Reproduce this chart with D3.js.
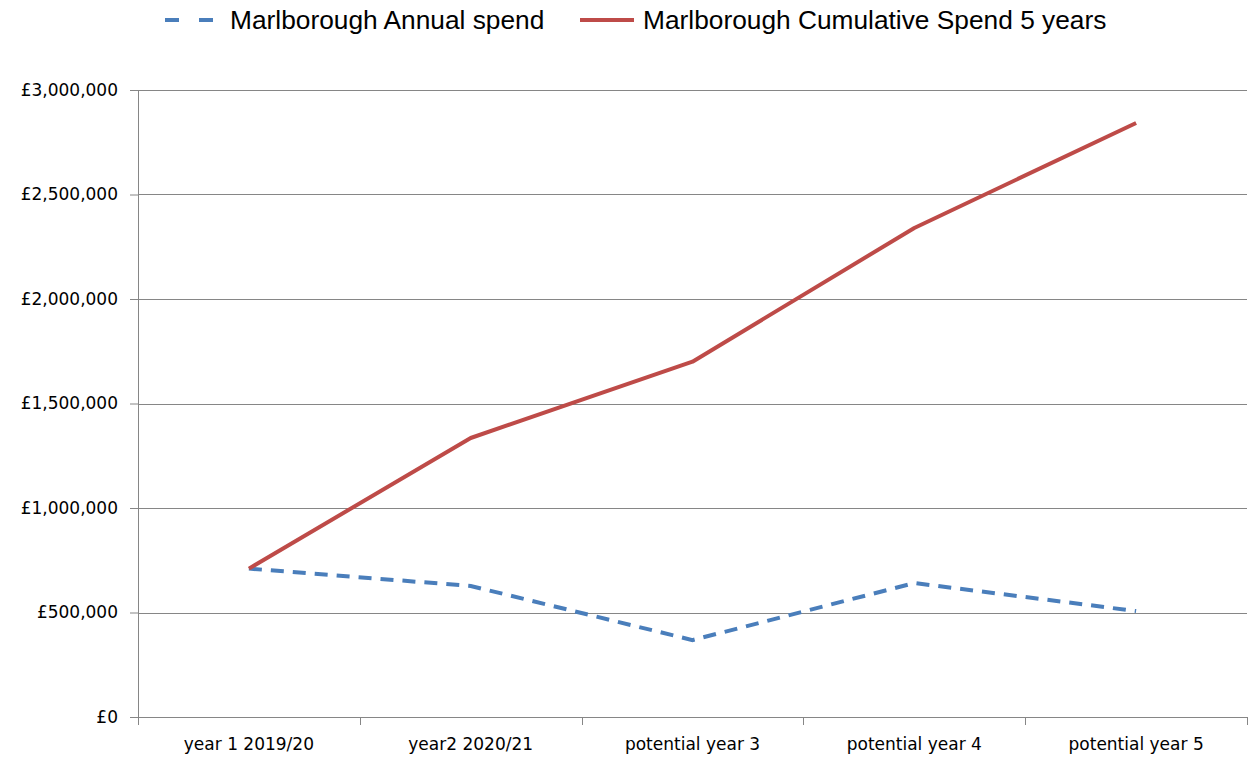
<!DOCTYPE html>
<html>
<head>
<meta charset="utf-8">
<script src="https://cdn.jsdelivr.net/npm/d3@7"></script>
<style>
  body { margin: 0; background: #fff; }
</style>
</head>
<body>
<div id="chart"></div>
<script>
var categories = ["year 1 2019/20", "year2 2020/21", "potential year 3", "potential year 4", "potential year 5"];
var annualSpend = [710000, 627000, 368000, 641000, 507000];
var cumulativeSpend = [710000, 1335000, 1700000, 2340000, 2842000];
var yTicks = [0, 500000, 1000000, 1500000, 2000000, 2500000, 3000000];
var seriesNames = ["Marlborough Annual spend", "Marlborough Cumulative Spend 5 years"];

var margin = { top: 90, right: 2, bottom: 43, left: 138 },
    width = 1249 - margin.left - margin.right,
    height = 760 - margin.top - margin.bottom;

var svg = d3.select("#chart").append("svg")
    .attr("width", 1249)
    .attr("height", 760);

var g = svg.append("g")
    .attr("transform", "translate(" + margin.left + "," + margin.top + ")");

var xscale = d3.scaleBand().domain(categories).range([0, width]);
var yscale = d3.scaleLinear().domain([0, 3000000]).range([height, 0]);

// gridlines
g.selectAll(".grid")
    .data(yTicks.slice(1))
    .enter().append("line")
    .attr("x1", 0).attr("x2", width)
    .attr("y1", function (d) { return Math.round(yscale(d)) + 0.5; })
    .attr("y2", function (d) { return Math.round(yscale(d)) + 0.5; })
    .attr("stroke", "#868686")
    .attr("stroke-width", 1);

// y axis
var yAxis = g.append("g")
    .call(d3.axisLeft(yscale).tickValues(yTicks).tickSize(8).tickPadding(12)
        .tickFormat(function (d) { return "£" + d3.format(",")(d); }));
yAxis.selectAll("line, path").attr("stroke", "#868686");
yAxis.select(".domain").attr("d", "M0.5," + height + "V0");

// x axis
var xAxis = g.append("g")
    .attr("transform", "translate(0," + height + ")")
    .call(d3.axisBottom(xscale).tickSize(0).tickPadding(21));
xAxis.select(".domain").attr("stroke", "#868686").attr("d", "M0," + 0.5 + "H" + width);
// tick marks between categories
xAxis.selectAll(".sep")
    .data(d3.range(categories.length + 1))
    .enter().append("line")
    .attr("x1", function (i) { return Math.round(i * xscale.step()) + 0.5; })
    .attr("x2", function (i) { return Math.round(i * xscale.step()) + 0.5; })
    .attr("y1", 0).attr("y2", 8)
    .attr("stroke", "#868686");

g.selectAll(".tick text")
    .attr("font-family", "'DejaVu Sans', sans-serif")
    .attr("font-size", 17)
    .attr("fill", "#000");

var line = d3.line()
    .x(function (d, i) { return xscale(categories[i]) + xscale.bandwidth() / 2; })
    .y(function (d) { return yscale(d); });

g.append("path")
    .datum(annualSpend)
    .attr("d", line)
    .attr("fill", "none")
    .attr("stroke", "#4a7ebb")
    .attr("stroke-width", 4)
    .attr("stroke-dasharray", "13,9");

g.append("path")
    .datum(cumulativeSpend)
    .attr("d", line)
    .attr("fill", "none")
    .attr("stroke", "#be4b48")
    .attr("stroke-width", 4)
    .attr("stroke-linejoin", "round");

// legend
var legend = svg.append("g").attr("font-family", "'Liberation Sans', Arial, sans-serif").attr("font-size", 26.3);
legend.append("line")
    .attr("x1", 165).attr("x2", 214).attr("y1", 20).attr("y2", 20)
    .attr("stroke", "#4a7ebb").attr("stroke-width", 4).attr("stroke-dasharray", "14,20");
legend.append("text").attr("x", 230).attr("y", 29).text(seriesNames[0]);
legend.append("line")
    .attr("x1", 580).attr("x2", 634).attr("y1", 20).attr("y2", 20)
    .attr("stroke", "#be4b48").attr("stroke-width", 4);
legend.append("text").attr("x", 643).attr("y", 29).text(seriesNames[1]);
</script>
</body>
</html>
